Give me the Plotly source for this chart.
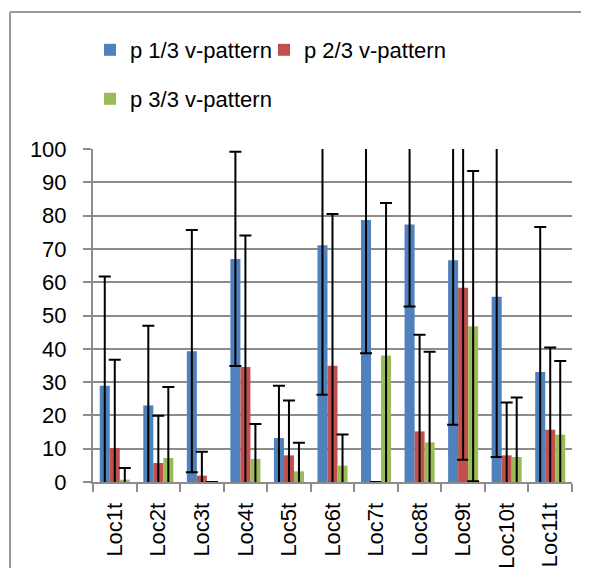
import plotly.graph_objects as go

categories = ["Loc1t", "Loc2t", "Loc3t", "Loc4t", "Loc5t", "Loc6t",
              "Loc7t", "Loc8t", "Loc9t", "Loc10t", "Loc11t"]
series_names = ["p 1/3 v-pattern", "p 2/3 v-pattern", "p 3/3 v-pattern"]

p1_values = [28.9, 23.0, 39.3, 67.0, 13.2, 71.1, 78.7, 77.3, 66.6, 55.6, 33.0]
p1_errors = [32.8, 23.9, 36.4, 32.2, 15.7, 44.9, 40.0, 24.6, 49.4, 48.1, 43.6]

p2_values = [10.2, 5.7, 1.9, 34.5, 8.0, 34.9, 0.0, 15.2, 58.3, 8.0, 15.7]
p2_errors = [26.5, 14.2, 7.2, 39.5, 16.5, 45.6, 0.0, 29.0, 51.6, 15.9, 24.7]

p3_values = [0.7, 7.2, 0.0, 6.9, 3.2, 4.9, 38.0, 11.9, 46.8, 7.5, 14.2]
p3_errors = [3.5, 21.3, 0.0, 10.5, 8.6, 9.4, 45.8, 27.2, 46.6, 17.9, 22.1]

y_ticks = [0, 10, 20, 30, 40, 50, 60, 70, 80, 90, 100]

colors = ["#4F81BD", "#C0504D", "#9BBB59"]
FONT = "Liberation Sans"

# page coords -> paper coords (page has an 8px body margin)
def px(P):
    return (P - 93) / 479

def py(P):
    return (482 - P) / 333

fig = go.Figure()
for name, vals, errs, col, lg in zip(series_names,
                                     [p1_values, p2_values, p3_values],
                                     [p1_errors, p2_errors, p3_errors],
                                     colors, ["legend", "legend2", "legend3"]):
    fig.add_trace(go.Bar(
        x=categories, y=vals, name=name, marker=dict(color=col, line=dict(width=0)),
        error_y=dict(type="data", array=errs, visible=True, color="black",
                     thickness=2, width=6),
        showlegend=False,
    ))
    # legend entry with a square swatch
    fig.add_trace(go.Scatter(
        x=[None], y=[None], mode="markers", name=name,
        marker=dict(symbol="square", size=12, color=col, line=dict(width=0)),
        legend=lg, showlegend=True, hoverinfo="skip",
    ))

grid_col = "#8C8C8C"
leg_common = dict(orientation="h", xanchor="left", yanchor="top",
                  font=dict(family=FONT, size=22), bgcolor="rgba(0,0,0,0)")
fig.update_layout(
    width=573, height=560,
    margin=dict(l=85, r=9, t=141, b=86),
    showlegend=True,
    paper_bgcolor="white", plot_bgcolor="white",
    barmode="group", bargap=0.31, bargroupgap=0,
    font=dict(family=FONT, color="black", size=22),
    xaxis=dict(type="category", tickangle=-90, showgrid=False,
               showline=True, linecolor=grid_col, linewidth=2,
               ticks="outside", ticklen=8, tickwidth=2, tickcolor=grid_col,
               tickson="boundaries", ticklabelstandoff=10, automargin=False,
               tickfont=dict(family=FONT, size=22)),
    yaxis=dict(range=[0, 100], tickvals=y_ticks, showgrid=True,
               gridcolor=grid_col, gridwidth=2,
               showline=True, linecolor=grid_col, linewidth=2,
               ticks="outside", ticklen=8, tickwidth=2, tickcolor=grid_col,
               ticklabelstandoff=12, zeroline=False, automargin=False,
               tickfont=dict(family=FONT, size=22)),
    legend=dict(x=px(90), y=py(29), **leg_common),
    legend2=dict(x=px(264), y=py(29), **leg_common),
    legend3=dict(x=px(90), y=py(78), **leg_common),
    shapes=[
        dict(type="line", xref="paper", yref="paper",
             x0=px(10), x1=px(10), y0=py(600), y1=py(12),
             line=dict(color="#9A9A9A", width=2)),
        dict(type="line", xref="paper", yref="paper",
             x0=px(10), x1=px(600), y0=py(12), y1=py(12),
             line=dict(color="#9A9A9A", width=2)),
    ],
)

fig.write_html("out.html")
